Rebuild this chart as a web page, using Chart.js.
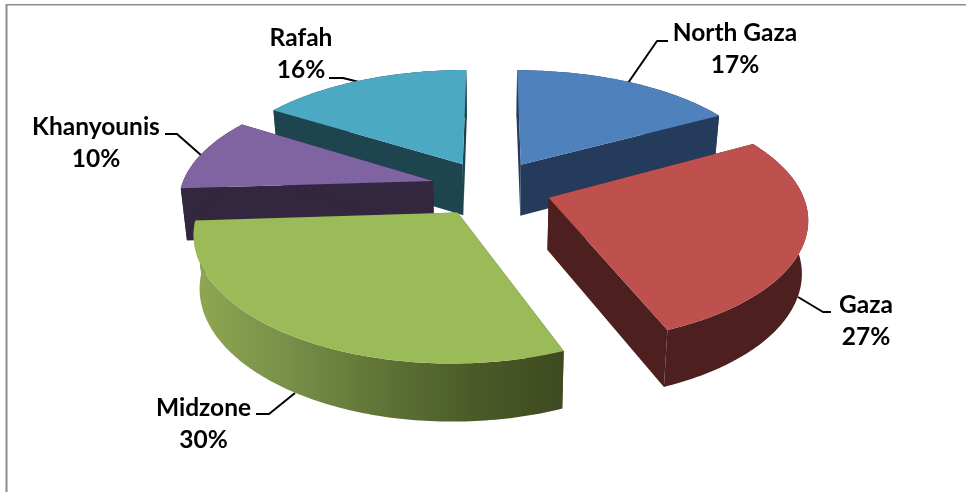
<!DOCTYPE html>
<html><head><meta charset="utf-8">
<style>html,body{margin:0;padding:0;background:#fff}canvas{display:block}</style>
<script src="https://cdn.jsdelivr.net/npm/chart.js@4"></script>
</head><body><canvas id="c" width="966" height="492"></canvas>
<script>
const categories = ['North Gaza','Gaza','Midzone','Khanyounis','Rafah'];
const values = [17,27,30,10,16];
const topColors = ['#4F81BD','#BE504D','#9BBB59','#8064A2','#4BA9C4'];
const wallColors = ['#253B5C','#4E1F1F',null,'#33263F','#1E444F'];
const midzoneWallStops = ['#8EA551','#778F48','#5F7436','#4B5B28','#3E4A20'];
const paintOrder = [4,0,3,1,2];

// projection of the tilted pie
const view = {cx:491, cy:188, a:252, b:117, cH:0.15, cV:0.165, explode:0.24, depth:52, shrink:0.98};
// label layout
const labelCentres = [[735,33],[866,305],[203.5,408],[96,127],[301,38]];
const leaders = [
  [[628,83],[657,41],[668,41]],
  [[798,297],[823,312],[831,312]],
  [[295,393],[269,414],[256,414]],
  [[202,156],[177,134],[165,134]],
  [[359,82],[343,78],[329,78]]
];

function project(u,v){ return [view.cx+view.a*u/(1-view.cH*v), view.cy+view.b*v/(1-view.cV*v)]; }
function projectBase(u,v){
  const p=project(u,v);
  return [view.cx+(p[0]-view.cx)*view.shrink, p[1]+view.depth/Math.sqrt(1-view.cV*v)];
}
function poly(ctx,pts,fill){
  ctx.beginPath();
  pts.forEach((p,k)=>k?ctx.lineTo(p[0],p[1]):ctx.moveTo(p[0],p[1]));
  ctx.closePath();ctx.fillStyle=fill;ctx.fill();
}
function drawSlice(ctx,arc,i){
  const s=arc.startAngle,e=arc.endAngle,m=(s+e)/2;
  const ou=view.explode*Math.cos(m), ov=view.explode*Math.sin(m);
  const n=Math.max(8,Math.round((e-s)*60));
  const rim=[];
  for(let k=0;k<=n;k++){const t=s+(e-s)*k/n;rim.push([ou+Math.cos(t),ov+Math.sin(t)]);}
  const apex=[ou,ov];
  let wall=wallColors[i];
  if(!wall){
    const g=ctx.createLinearGradient(200,0,562,0);
    midzoneWallStops.forEach((c,j)=>g.addColorStop(j/(midzoneWallStops.length-1),c));
    wall=g;
  }
  const flat=wallColors[i]||midzoneWallStops[4];
  const P=q=>project(q[0],q[1]), B=q=>projectBase(q[0],q[1]);
  poly(ctx,[P(apex),P(rim[0]),B(rim[0]),B(apex)],flat);
  poly(ctx,[P(apex),P(rim[n]),B(rim[n]),B(apex)],flat);
  poly(ctx,rim.map(P).concat(rim.slice().reverse().map(B)),wall);
  poly(ctx,[P(apex)].concat(rim.map(P)),topColors[i]);
}
const tiltedPie={
  id:'tiltedPie',
  beforeDatasetsDraw(chart){
    const ctx=chart.ctx;
    ctx.save();
    ctx.fillStyle='#fff';ctx.fillRect(0,0,chart.width,chart.height);
    ctx.fillStyle='#8C8C8C';
    ctx.fillRect(6,4,chart.width-6,1.5);
    ctx.fillRect(5.5,4,2,chart.height-4);
    ctx.strokeStyle='#000';ctx.lineWidth=2;ctx.lineJoin='round';
    leaders.forEach(l=>{ctx.beginPath();l.forEach((p,k)=>k?ctx.lineTo(p[0],p[1]):ctx.moveTo(p[0],p[1]));ctx.stroke();});
    const arcs=chart.getDatasetMeta(0).data;
    paintOrder.forEach(i=>drawSlice(ctx,arcs[i],i));
    ctx.fillStyle='#000';
    ctx.font='bold 24.5px Lato, Carlito, sans-serif';
    ctx.textAlign='center';ctx.textBaseline='middle';
    categories.forEach((name,i)=>{
      const [x,y]=labelCentres[i];
      ctx.fillText(name,x,y);
      ctx.fillText(values[i]+'%',x,y+32.5);
    });
    ctx.restore();
    return false;
  }
};
new Chart(document.getElementById('c'),{
  type:'pie',
  data:{labels:categories,datasets:[{data:values,backgroundColor:topColors}]},
  options:{responsive:false,animation:false,
    plugins:{legend:{display:false},tooltip:{enabled:false},title:{display:false}}},
  plugins:[tiltedPie]
});
</script></body></html>
